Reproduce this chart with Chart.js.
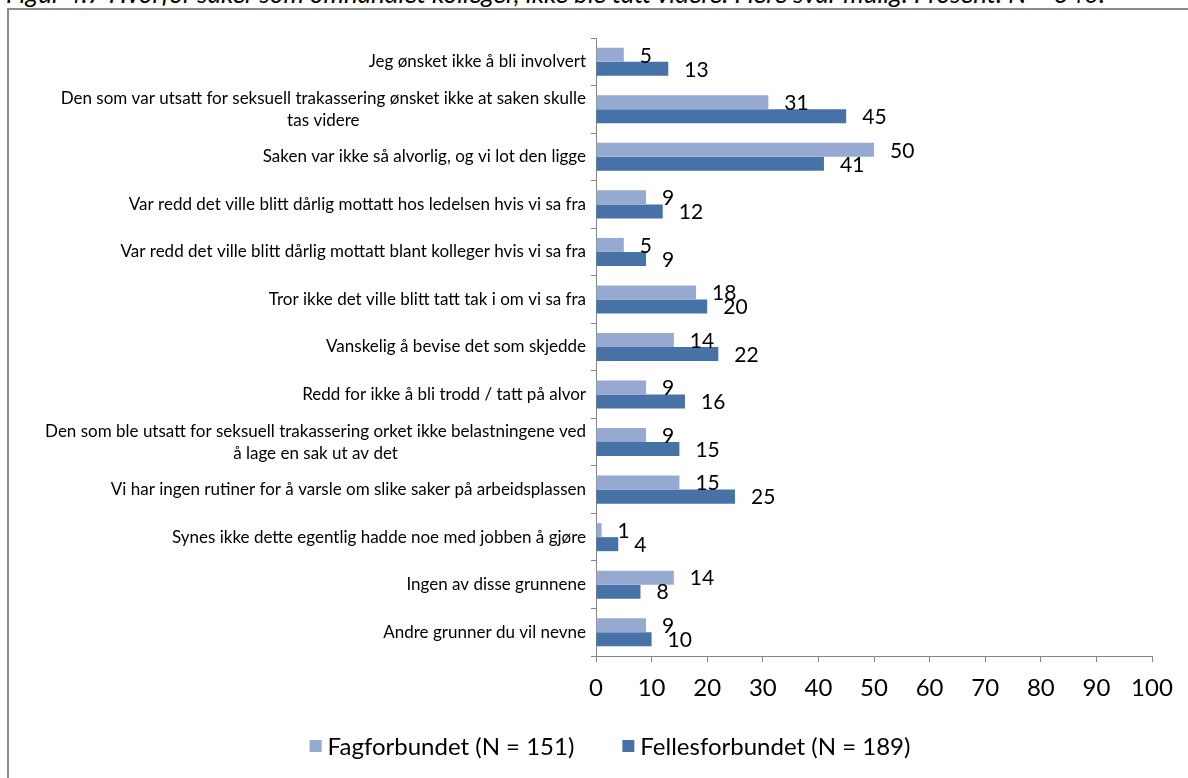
<!DOCTYPE html>
<html>
<head>
<meta charset="utf-8">
<script src="https://cdn.jsdelivr.net/npm/chart.js@4.4.1/dist/chart.umd.min.js"></script>
<style>
  html, body { margin: 0; padding: 0; width: 1188px; height: 778px; overflow: hidden; background: #fff; }
  #title { position: absolute; left: 6px; top: -18px; font: italic 26px/22px Lato, sans-serif; white-space: nowrap; color: #000; }
  #frame { position: absolute; left: 7px; top: 8px; width: 1300px; height: 900px; border: 2px solid #8c8c8c; box-sizing: border-box; }
  #wrap { position: absolute; left: 0; top: 0; width: 1220px; height: 778px; }
</style>
</head>
<body>
<div id="title">Figur 4.7 Hvorfor saker som omhandlet kolleger, ikke ble tatt videre. Flere svar mulig. Prosent. N = 340.</div>
<div id="frame"></div>
<div id="wrap"><canvas id="chart" width="1220" height="778"></canvas></div>
<script>
const categories = [
    'Jeg ønsket ikke å bli involvert',
    ['Den som var utsatt for seksuell trakassering ønsket ikke at saken skulle', 'tas videre'],
    'Saken var ikke så alvorlig, og vi lot den ligge',
    'Var redd det ville blitt dårlig mottatt hos ledelsen hvis vi sa fra',
    'Var redd det ville blitt dårlig mottatt blant kolleger hvis vi sa fra',
    'Tror ikke det ville blitt tatt tak i om vi sa fra',
    'Vanskelig å bevise det som skjedde',
    'Redd for ikke å bli trodd / tatt på alvor',
    ['Den som ble utsatt for seksuell trakassering orket ikke belastningene ved', 'å lage en sak ut av det'],
    'Vi har ingen rutiner for å varsle om slike saker på arbeidsplassen',
    'Synes ikke dette egentlig hadde noe med jobben å gjøre',
    'Ingen av disse grunnene',
    'Andre grunner du vil nevne'
];
const fagforbundet = [5, 31, 50, 9, 5, 18, 14, 9, 9, 15, 1, 14, 9];
const fellesforbundet = [13, 45, 41, 12, 9, 20, 22, 16, 15, 25, 4, 8, 10];
const seriesNames = ['Fagforbundet (N = 151)', 'Fellesforbundet (N = 189)'];
const xMin = 0;
const xMax = 100;
const xStep = 10;

const FONT = 'Lato, "Open Sans", sans-serif';

// category labels: block right aligned, lines centred inside the block (Excel style)
const categoryLabels = {
    id: 'categoryLabels',
    afterDraw(chart) {
        const ctx = chart.ctx;
        const yScale = chart.scales.y;
        const right = yScale.right - 10;
        const lineH = 22;
        ctx.save();
        ctx.font = '17px ' + FONT;
        ctx.fillStyle = '#000';
        ctx.textAlign = 'center';
        ctx.textBaseline = 'middle';
        categories.forEach((lab, i) => {
            const lines = Array.isArray(lab) ? lab : [lab];
            const w = Math.max(...lines.map(l => ctx.measureText(l).width));
            const cx = right - w / 2;
            const cy = yScale.getPixelForValue(i);
            lines.forEach((l, j) => {
                ctx.fillText(l, cx, cy + (j - (lines.length - 1) / 2) * lineH);
            });
        });
        ctx.restore();
    }
};

const valueLabels = {
    id: 'valueLabels',
    afterDatasetsDraw(chart) {
        const ctx = chart.ctx;
        ctx.save();
        ctx.font = '21px ' + FONT;
        ctx.fillStyle = '#000';
        ctx.textAlign = 'left';
        ctx.textBaseline = 'middle';
        chart.data.datasets.forEach((ds, di) => {
            chart.getDatasetMeta(di).data.forEach((bar, i) => {
                ctx.fillText(String(ds.data[i]), bar.x + 16, bar.y + 1);
            });
        });
        ctx.restore();
    }
};

// legend drawn by hand so it can sit centred under the whole frame
const bottomLegend = {
    id: 'bottomLegend',
    afterDraw(chart) {
        const ctx = chart.ctx;
        const box = 12, gapText = 6, gapItem = 48, cy = 746;
        ctx.save();
        ctx.font = '24px ' + FONT;
        ctx.textAlign = 'left';
        ctx.textBaseline = 'middle';
        const items = chart.data.datasets.map(ds => ({ text: ds.label, color: ds.backgroundColor, w: ctx.measureText(ds.label).width }));
        const total = items.reduce((s, it) => s + box + gapText + it.w, 0) + gapItem * (items.length - 1);
        let x = 610 - total / 2;
        items.forEach(it => {
            ctx.fillStyle = it.color;
            ctx.fillRect(x, cy - box / 2, box, box);
            ctx.fillStyle = '#000';
            ctx.fillText(it.text, x + box + gapText, cy + 1);
            x += box + gapText + it.w + gapItem;
        });
        ctx.restore();
    }
};

function drawChart() {
    const ctx = document.getElementById('chart').getContext('2d');
    new Chart(ctx, {
        type: 'bar',
        data: {
            labels: categories,
            datasets: [{
                label: seriesNames[0],
                data: fagforbundet,
                backgroundColor: '#95A9D1',
                borderWidth: 0,
                categoryPercentage: 0.59,
                barPercentage: 1
            }, {
                label: seriesNames[1],
                data: fellesforbundet,
                backgroundColor: '#4672A8',
                borderWidth: 0,
                categoryPercentage: 0.59,
                barPercentage: 1
            }]
        },
        options: {
            indexAxis: 'y',
            responsive: false,
            animation: false,
            layout: { padding: { top: 38, right: 68, bottom: 0, left: 0 } },
            scales: {
                x: {
                    min: xMin,
                    max: xMax,
                    ticks: { stepSize: xStep, font: { family: FONT, size: 24 }, color: '#000', padding: 12, maxRotation: 0 },
                    grid: { drawOnChartArea: false, tickLength: 6, color: '#868686' },
                    border: { color: '#868686' },
                    afterFit(scale) { scale.height = 122; }
                },
                y: {
                    offset: true,
                    grid: { offset: true, drawOnChartArea: false, tickLength: 5, color: '#868686' },
                    border: { color: '#868686' },
                    ticks: { display: false },
                    afterFit(scale) { scale.width = 596; }
                }
            },
            plugins: {
                legend: { display: false },
                tooltip: { enabled: false }
            }
        },
        plugins: [categoryLabels, valueLabels, bottomLegend]
    });
}

Promise.all([
    document.fonts.load('17px Lato'),
    document.fonts.load('italic 26px Lato')
]).then(drawChart, drawChart);
</script>
</body>
</html>
